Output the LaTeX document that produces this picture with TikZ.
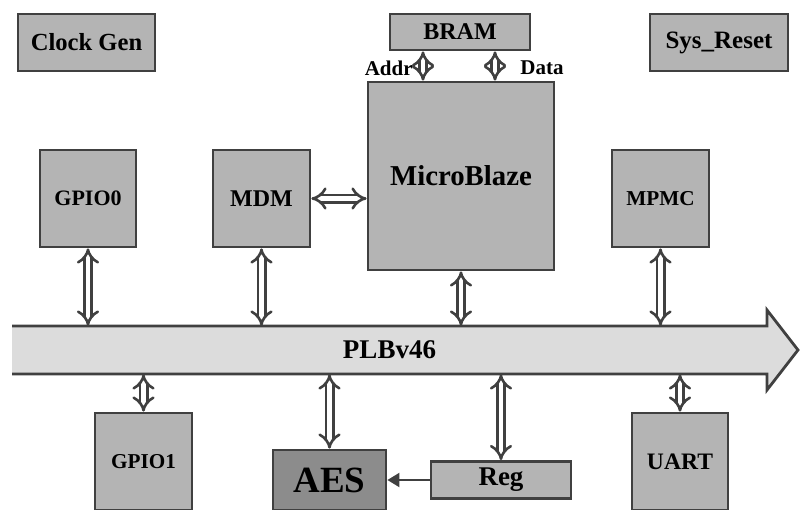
\documentclass[tikz,border=0pt]{standalone}
\usepackage{fontspec}
\setmainfont{Liberation Serif}
\usetikzlibrary{arrows.meta}
\definecolor{edgegray}{RGB}{64,64,64}
\definecolor{boxgray}{RGB}{180,180,180}
\definecolor{aesgray}{RGB}{140,140,140}
\definecolor{busgray}{RGB}{220,220,220}
\begin{document}
\begin{tikzpicture}[x=0.5pt, y=-0.5pt,
  blk/.style={draw=edgegray, fill=boxgray, line width=1.4pt, inner sep=0pt, font=\bfseries},
  dbl/.style={draw=edgegray, double=white, double distance=2.4pt, line width=1.3pt, {Implies[length=2.5pt, width=11pt]}-{Implies[length=2.5pt, width=11pt]}},
  lbl/.style={font=\bfseries\fontsize{10.5}{12}\selectfont, inner sep=0pt}]
\useasboundingbox (0,0) rectangle (800,510);
% bus
\fill[busgray] (12,326) -- (767,326) -- (767,310) -- (798,350) -- (767,390) -- (767,374) -- (12,374) -- cycle;
\draw[edgegray, line width=1.4pt] (12,326) -- (767,326) -- (767,310) -- (798,350) -- (767,390) -- (767,374) -- (12,374);
\node[minimum width=377.5pt, minimum height=24pt, inner sep=0pt, font=\bfseries\fontsize{13.5}{15}\selectfont] (plb) at (389.5,350) {PLBv46};
% blocks
\node[blk, minimum width=68.5pt, minimum height=28.5pt, font=\bfseries\fontsize{12.3}{14}\selectfont] (clk) at (86.5,42.5) {Clock Gen};
\node[blk, minimum width=70pt, minimum height=18pt, font=\bfseries\fontsize{12}{14}\selectfont] (bram) at (460,32) {BRAM};
\node[blk, minimum width=69pt, minimum height=28.5pt, font=\bfseries\fontsize{12.5}{14}\selectfont] (rst) at (719,42.5) {Sys\_Reset};
\node[blk, minimum width=93pt, minimum height=94pt, font=\bfseries\fontsize{14.4}{16}\selectfont] (mb) at (461,176) {MicroBlaze};
\node[blk, minimum width=48pt, minimum height=48.5pt, font=\bfseries\fontsize{11}{13}\selectfont] (gpio0) at (88,198.5) {GPIO0};
\node[blk, minimum width=48.5pt, minimum height=48.5pt, font=\bfseries\fontsize{12}{14}\selectfont] (mdm) at (261.5,198.5) {MDM};
\node[blk, minimum width=48.5pt, minimum height=48.5pt, font=\bfseries\fontsize{10.6}{12}\selectfont] (mpmc) at (660.5,198.5) {MPMC};
\node[blk, minimum width=48.5pt, minimum height=48.5pt, font=\bfseries\fontsize{10.6}{12}\selectfont] (gpio1) at (143.5,461.5) {GPIO1};
\node[blk, fill=aesgray, minimum width=56.5pt, minimum height=30pt, font=\bfseries\fontsize{18.5}{20}\selectfont] (aes) at (329.5,480) {AES};
\node[blk, minimum width=70pt, minimum height=18.5pt, font=\bfseries\fontsize{13.5}{15}\selectfont] (reg) at (501,480) {Reg};
\node[blk, minimum width=48pt, minimum height=48.5pt, font=\bfseries\fontsize{11.8}{13}\selectfont] (uart) at (680,461.5) {UART};
% labels
\node[lbl, anchor=east] (addr) at (413,68) {Addr};
\node[lbl, anchor=west] (data) at (520,68) {Data};
% connectors
\draw[dbl] ([xshift=-18.5pt]bram.south) -- ([xshift=-18.5pt]bram.south |- mb.north);
\draw[dbl] ([xshift=17.5pt]bram.south) -- ([xshift=17.5pt]bram.south |- mb.north);
\draw[dbl] (mdm.east) -- (mb.west |- mdm.east);
\draw[dbl] (gpio0.south) -- (gpio0.south |- plb.north);
\draw[dbl] (mdm.south) -- (mdm.south |- plb.north);
\draw[dbl] (mb.south) -- (mb.south |- plb.north);
\draw[dbl] (mpmc.south) -- (mpmc.south |- plb.north);
\draw[dbl] (gpio1.north) -- (gpio1.north |- plb.south);
\draw[dbl] (aes.north) -- (aes.north |- plb.south);
\draw[dbl] (reg.north) -- (reg.north |- plb.south);
\draw[dbl] (uart.north) -- (uart.north |- plb.south);
\draw[edgegray, line width=1pt, -{Triangle[length=6pt, width=7pt]}] (reg.west) -- (aes.east);
\end{tikzpicture}
\end{document}
